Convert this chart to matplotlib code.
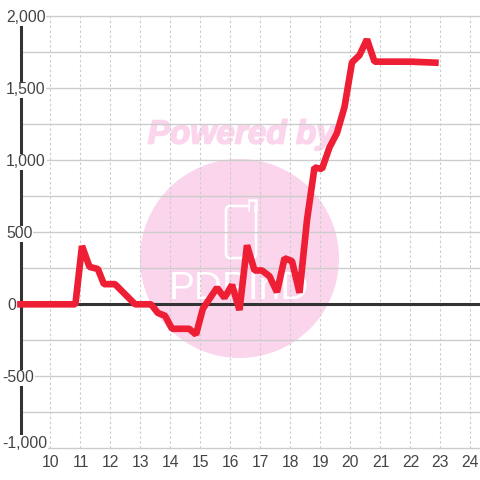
import matplotlib
matplotlib.use('Agg')
import matplotlib.pyplot as plt
import matplotlib.patheffects as pe
from matplotlib.patches import Circle, FancyBboxPatch, Rectangle

hours = [9, 10.83, 11.05, 11.3, 11.58, 11.78, 12.15, 12.82, 13.35, 13.58, 13.82, 14.05, 14.62, 14.85,
         15.08, 15.55, 15.8, 16.05, 16.3, 16.55, 16.8, 17.05, 17.3, 17.55, 17.8, 18.05, 18.3, 18.55,
         18.8, 19.05, 19.3, 19.55, 19.8, 20.05, 20.3, 20.55, 20.8, 22.0, 22.83]
values = [0, 0, 405, 260, 245, 140, 140, 0, 0, -60, -80, -170, -170, -210,
          -30, 115, 45, 135, -40, 410, 235, 235, 195, 85, 320, 300, 80, 585,
          950, 940, 1090, 1190, 1370, 1680, 1730, 1840, 1685, 1685, 1678]
x_ticks = list(range(10, 25))
y_ticks = [-1000, -500, 0, 500, 1000, 1500, 2000]
y_minor = [-750, -250, 250, 750, 1250, 1750]

plt.rcParams['font.family'] = ['Liberation Sans', 'DejaVu Sans']
fig = plt.figure(figsize=(4.8, 4.8), dpi=100)

# watermark sits under everything, in pixel coords
bg = fig.add_axes([0, 0, 1, 1])
bg.set_xlim(0, 480)
bg.set_ylim(480, 0)
bg.axis('off')
bg.add_patch(Circle((239.5, 258.5), 99.5, fc='#fbd5ec', ec='none'))
bg.text(241.5, 135, 'Powered by', color='#fbd5ec', fontsize=24, fontweight='bold', fontstyle='italic',
        ha='center', va='center', path_effects=[pe.withStroke(linewidth=1.2, foreground='#fbd5ec')])
bg.add_patch(FancyBboxPatch((229, 209), 24, 46, boxstyle='round,pad=3,rounding_size=4', fc='none', ec='white', lw=1.8))
bg.add_patch(Rectangle((249, 200), 7, 10, fc='none', ec='white', lw=1.8))
bg.add_patch(Rectangle((250, 202), 4, 10, fc='#fbd5ec', ec='none'))
bg.text(239, 289, 'PDPInD', color='white', fontsize=28, ha='center', va='center')

ax = fig.add_axes([20.5 / 480, (480 - 448.3) / 480, 459.5 / 480, 432 / 480])
ax.patch.set_alpha(0)
ax.set_xlim(9, 24.317)
ax.set_ylim(-1000, 2000)
for s in ax.spines.values():
    s.set_visible(False)
ax.spines['left'].set_visible(True)
ax.spines['left'].set_linewidth(2.2)
ax.spines['left'].set_color('#333333')
ax.spines['left'].set_zorder(3)

ax.set_xticks(x_ticks)
ax.set_yticks(y_ticks)
ax.set_yticks(y_minor, minor=True)
ax.tick_params(which='both', length=0, labelleft=False)
ax.tick_params(axis='x', labelsize=11.3, labelcolor='#444444', pad=5)
ax.grid(axis='y', which='both', color='#cccccc', lw=1.0, zorder=1)
ax.grid(axis='x', color='#cccccc', lw=0.8, dashes=(2.2, 2.2), zorder=1)
ax.set_axisbelow(True)
for t in ax.yaxis.get_major_ticks() + ax.yaxis.get_minor_ticks() + ax.xaxis.get_major_ticks():
    t.gridline.set_clip_on(False)

ax.axhline(0, color='#333333', lw=2.2, zorder=2)
ax.plot(hours, values, color='#ee1f35', lw=4.8, solid_capstyle='projecting', solid_joinstyle='bevel',
        zorder=4, clip_on=False)

# white cover behind the bottom label, it hides the axis end and gridline start
ax.add_patch(Rectangle((0, 30 / 480), 45.5 / 480, 14 / 480, transform=fig.transFigure, fc='white', ec='none',
                       zorder=5, clip_on=False))
for v in y_ticks:
    left = 2 if v < 0 else (7 if v == 0 else 6)
    up = 4.7 if v == -1000 else 0
    ax.annotate(f'{v:,}', xy=(0, v), xycoords=('figure pixels', 'data'), xytext=(left * 0.72, up),
                textcoords='offset points', ha='left', va='center_baseline', fontsize=11.3, color='#444444',
                bbox=dict(fc='white', ec='none', pad=0.6), zorder=6, annotation_clip=False)

fig.savefig('out.png', dpi=100)
